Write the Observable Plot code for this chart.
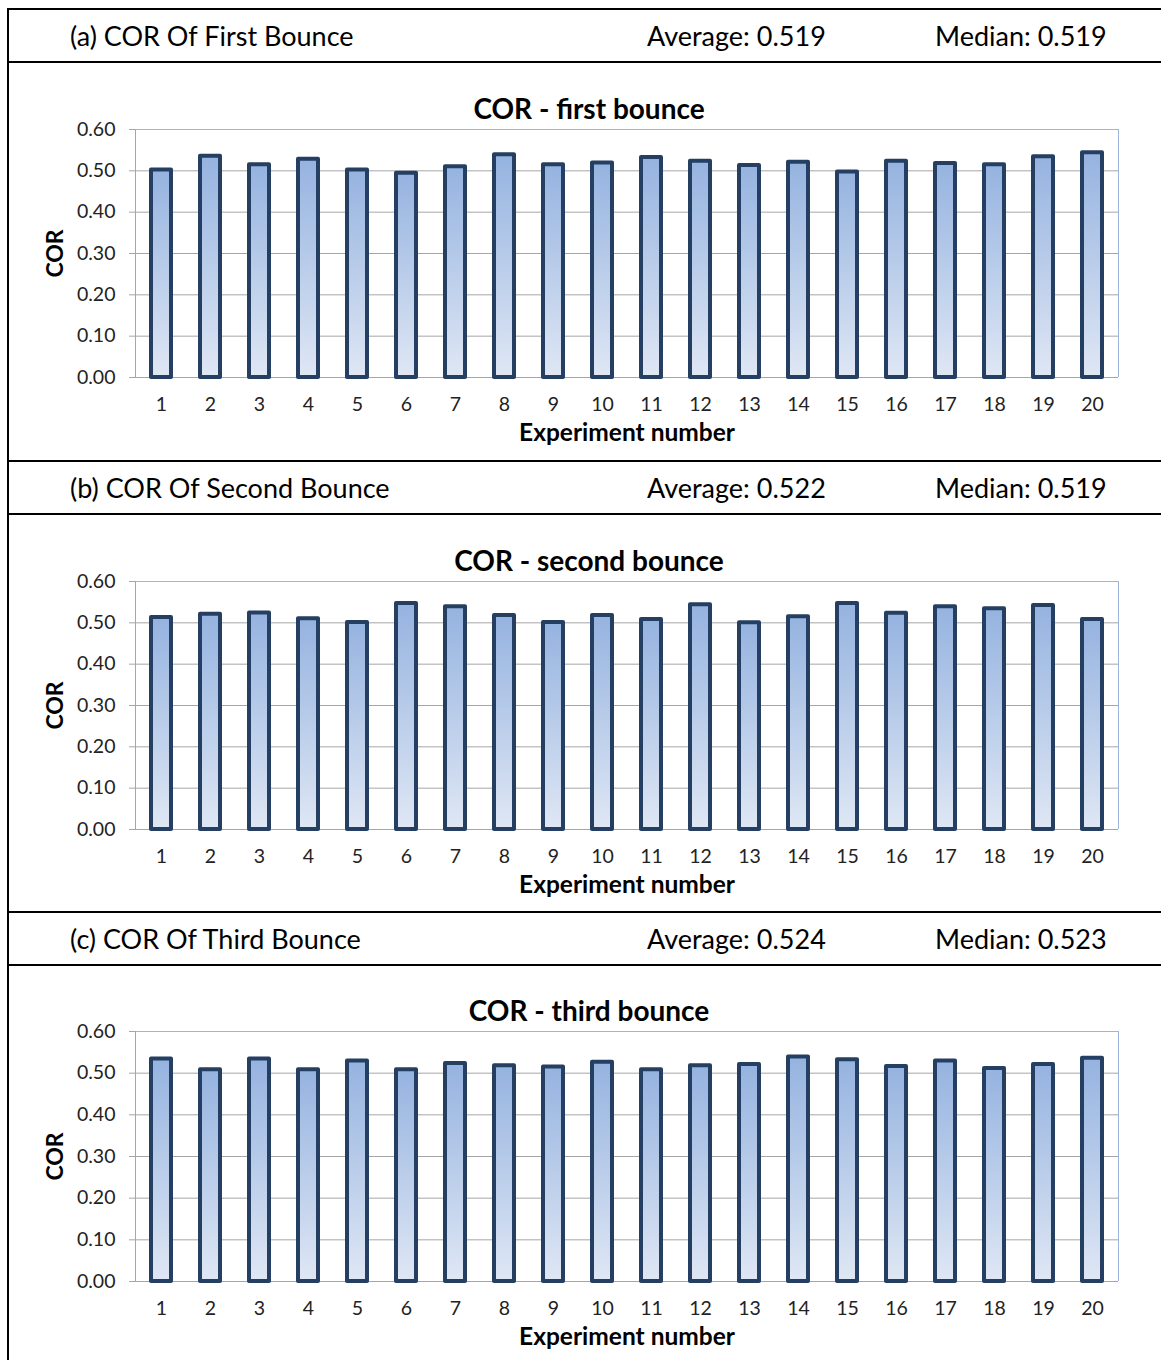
<!DOCTYPE html>
<html>
<head>
<meta charset="utf-8">
<script src="https://cdn.jsdelivr.net/npm/d3@7"></script>
<script src="https://cdn.jsdelivr.net/npm/@observablehq/plot@0.6"></script>
<style>
  html, body { margin: 0; padding: 0; background: #fff; }
  body { width: 1161px; height: 1360px; position: relative; overflow: hidden; font-family: Lato, "Open Sans", sans-serif; }
  .hline { position: absolute; left: 7px; width: 1154px; height: 2px; background: #000; }
  .vline { position: absolute; left: 7px; top: 8px; width: 2px; height: 1352px; background: #000; }
  .hdr { position: absolute; font-size: 27px; color: #000; white-space: nowrap; line-height: 1; }
</style>
</head>
<body>
<div id="root"></div>
<script>
// ---- data ----
const experiments = [1,2,3,4,5,6,7,8,9,10,11,12,13,14,15,16,17,18,19,20];
const corFirst  = [0.502,0.535,0.515,0.528,0.502,0.494,0.510,0.539,0.515,0.519,0.532,0.523,0.513,0.521,0.497,0.523,0.518,0.515,0.534,0.544];
const corSecond = [0.513,0.521,0.524,0.510,0.501,0.547,0.539,0.518,0.501,0.518,0.508,0.544,0.500,0.515,0.547,0.523,0.539,0.534,0.542,0.508];
const corThird  = [0.534,0.508,0.534,0.508,0.529,0.508,0.523,0.518,0.515,0.526,0.508,0.518,0.521,0.539,0.532,0.516,0.529,0.511,0.521,0.536];
const yTicks = [0.00,0.10,0.20,0.30,0.40,0.50,0.60];
const panelLabels = ["(a) COR Of First Bounce","(b) COR Of Second Bounce","(c) COR Of Third Bounce"];
const averages = ["Average: 0.519","Average: 0.522","Average: 0.524"];
const medians  = ["Median: 0.519","Median: 0.519","Median: 0.523"];
const chartTitles = ["COR - first bounce","COR - second bounce","COR - third bounce"];
const xLabel = "Experiment number";
const yLabel = "COR";
const series = [corFirst, corSecond, corThird];

// ---- layout (page px) ----
const layout = [
  {hTop: 9,   hBot: 62,  svgTop: 63,  svgH: 398, mt: 66, mb: 84},
  {hTop: 461, hBot: 514, svgTop: 515, svgH: 397, mt: 66, mb: 83},
  {hTop: 912, hBot: 965, svgTop: 966, svgH: 394, mt: 65, mb: 79}
];

const root = document.getElementById("root");
const vl = document.createElement("div"); vl.className = "vline"; root.appendChild(vl);

function addDiv(cls, style, text) {
  const d = document.createElement("div");
  d.className = cls;
  Object.assign(d.style, style);
  if (text != null) d.textContent = text;
  root.appendChild(d);
  return d;
}

// side borders of the plot area, drawn from the plot's own dimensions
function sideLines(leftColor, rightColor) {
  return (index, scales, values, dims) => {
    const {width, height, marginLeft, marginRight, marginTop, marginBottom} = dims;
    const g = d3.create("svg:g");
    g.append("line").attr("x1", marginLeft + 0.5).attr("x2", marginLeft + 0.5)
      .attr("y1", marginTop).attr("y2", height - marginBottom).attr("stroke", leftColor);
    g.append("line").attr("x1", width - marginRight + 0.5).attr("x2", width - marginRight + 0.5)
      .attr("y1", marginTop).attr("y2", height - marginBottom).attr("stroke", rightColor);
    return g.node();
  };
}

layout.forEach((L, i) => {
  addDiv("hline", {top: (L.hTop - 1) + "px"});
  addDiv("hline", {top: (L.hBot - 1) + "px"});
  const mid = (L.hTop + L.hBot) / 2;
  addDiv("hdr", {left: "70px", top: (mid - 14) + "px"}, panelLabels[i]);
  addDiv("hdr", {left: "647px", top: (mid - 14) + "px"}, averages[i]);
  addDiv("hdr", {left: "935px", top: (mid - 14) + "px"}, medians[i]);

  const data = experiments.map((e, k) => ({exp: e, cor: series[i][k]}));
  const gid = "barGrad" + i;
  const chart = Plot.plot({
    width: 1152,
    height: L.svgH,
    marginLeft: 126,
    marginRight: 43,
    marginTop: L.mt,
    marginBottom: L.mb,
    style: {fontFamily: "Lato, 'Open Sans', sans-serif", fontSize: "19px", color: "#222", background: "transparent", overflow: "visible"},
    x: {type: "band", domain: experiments, paddingInner: 0.6, paddingOuter: 0.3, label: null},
    y: {domain: [0, 0.6], label: null},
    marks: [
      () => {
        const defs = d3.create("svg:defs");
        const g = defs.append("linearGradient").attr("id", gid).attr("x1", 0).attr("y1", 0).attr("x2", 0).attr("y2", 1);
        g.append("stop").attr("offset", "0%").attr("stop-color", "#95B3E0");
        g.append("stop").attr("offset", "100%").attr("stop-color", "#DFE7F4");
        return defs.node();
      },
      Plot.gridY(yTicks.filter(t => t > 0 && t < 0.6), {stroke: "#A6A6A6", strokeOpacity: 1, strokeWidth: 1}),
      Plot.ruleY([0.6], {stroke: "#9BB5DC", strokeWidth: 1}),
      sideLines("#A6A6A6", "#9BB5DC"),
      Plot.axisY({ticks: yTicks, tickFormat: d => d.toFixed(2), tickSize: 6, tickPadding: 14, stroke: "#A6A6A6", fontSize: 19.5, label: null}),
      Plot.axisX({tickSize: 0, tickPadding: 20, fontSize: 19.5, label: null}),
      Plot.ruleY([0], {stroke: "#A6A6A6", strokeWidth: 1}),
      Plot.barY(data, {x: "exp", y: "cor", fill: `url(#${gid})`, stroke: "#253F62", strokeWidth: 4, strokeLinejoin: "round", inset: 0}),
      Plot.text([chartTitles[i]], {frameAnchor: "top", dy: -19, dx: -38, fontSize: 28, fontWeight: "bold", fill: "#000", lineAnchor: "middle", textAnchor: "middle"}),
      Plot.text([xLabel], {frameAnchor: "bottom", dy: 56, fontSize: 24.5, fontWeight: "bold", fill: "#000", lineAnchor: "middle", textAnchor: "middle"}),
      Plot.text([yLabel], {frameAnchor: "left", dx: -80, rotate: -90, fontSize: 23, fontWeight: "bold", fill: "#000", lineAnchor: "middle", textAnchor: "middle"})
    ]
  });
  chart.style.position = "absolute";
  chart.style.left = "9px";
  chart.style.top = L.svgTop + "px";
  root.appendChild(chart);
});
</script>
</body>
</html>
